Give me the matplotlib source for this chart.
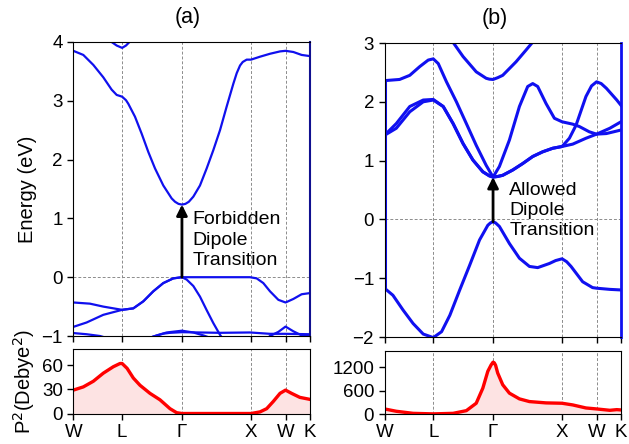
import numpy as np
import matplotlib
matplotlib.use('Agg')
import matplotlib.pyplot as plt

plt.rcParams['font.family'] = ['Liberation Sans', 'DejaVu Sans']
plt.rcParams['font.size'] = 13.5

# high symmetry points along W-L-G-X-W-K (units of 2pi/a)
kpts = [0.0, 0.707, 1.573, 2.573, 3.073, 3.427]
klabels = ['W', 'L', 'Γ', 'X', 'W', 'K']

# ---- (a) forbidden case ----
a_cb_k = [0.000, 0.145, 0.290, 0.434, 0.555, 0.628, 0.707, 0.763, 0.796, 0.893, 0.990, 1.086,
          1.183, 1.303, 1.424, 1.473, 1.523, 1.573, 1.623, 1.673, 1.738, 1.834, 1.931, 2.027,
          2.124, 2.220, 2.317, 2.366, 2.414, 2.453, 2.510, 2.573, 2.703, 2.848, 2.993, 3.073,
          3.186, 3.306, 3.427]
a_cb_e = [3.85, 3.78, 3.61, 3.40, 3.19, 3.10, 3.07, 3.01, 2.95, 2.73, 2.44, 2.13,
          1.85, 1.56, 1.34, 1.283, 1.247, 1.235, 1.247, 1.283, 1.37, 1.56, 1.85, 2.16,
          2.50, 2.90, 3.29, 3.47, 3.60, 3.66, 3.70, 3.70, 3.75, 3.80, 3.84, 3.85,
          3.83, 3.78, 3.76]

a_c2_k = [0.483, 0.555, 0.628, 0.707, 0.763, 0.830, 0.893]
a_c2_e = [4.08, 4.00, 3.94, 3.90, 3.94, 4.02, 4.10]

a_v1_k = [0.000, 0.241, 0.434, 0.707, 0.869, 1.014, 1.158, 1.303, 1.448, 1.573,
          1.883, 2.220, 2.558, 2.655, 2.751, 2.848, 2.969, 3.073, 3.186, 3.306, 3.427]
a_v1_e = [-0.43, -0.45, -0.50, -0.555, -0.53, -0.41, -0.24, -0.10, -0.02, 0.0,
          0.0, 0.0, 0.0, -0.02, -0.10, -0.24, -0.385, -0.43, -0.37, -0.29, -0.27]

a_v2_k = [0.000, 0.193, 0.434, 0.707, 0.869, 1.014, 1.158, 1.303, 1.448, 1.573,
          1.641, 1.738, 1.834, 1.931, 2.027, 2.124, 2.172]
a_v2_e = [-0.845, -0.77, -0.64, -0.555, -0.53, -0.41, -0.24, -0.10, -0.02, 0.0,
          -0.04, -0.15, -0.33, -0.56, -0.78, -0.98, -1.06]

a_v3_k = [0.000, 0.193, 0.386, 0.531]
a_v3_e = [-0.95, -0.97, -1.00, -1.05]
a_v4_k = [1.062, 1.207, 1.352, 1.573, 1.738, 1.883, 2.027]
a_v4_e = [-1.05, -0.99, -0.94, -0.91, -0.94, -0.99, -1.05]
a_v5_k = [1.158, 1.303, 1.400, 1.573, 2.124, 2.558, 2.848, 3.073, 3.427]
a_v5_e = [-1.01, -0.96, -0.946, -0.935, -0.946, -0.94, -0.963, -0.963, -0.97]
a_v6_k = [2.848, 2.969, 3.073, 3.186, 3.306, 3.427]
a_v6_e = [-1.00, -0.93, -0.84, -0.92, -0.99, -1.00]

a_p2_k = [0.000, 0.145, 0.290, 0.434, 0.579, 0.676, 0.707, 0.779, 0.869, 0.966, 1.110,
          1.255, 1.400, 1.496, 1.573, 2.573, 2.703, 2.800, 2.896, 2.993, 3.073,
          3.160, 3.280, 3.427]
a_p2 = [29, 33, 40, 50, 58, 62, 62, 56, 44, 35, 25,
        17, 6, 1, 0, 0, 2, 6, 15, 25, 29,
        25, 20, 17.5]

# ---- (b) allowed case ----
b_c1_k = [0.000, 0.171, 0.366, 0.561, 0.707, 0.851, 0.994, 1.138, 1.281, 1.425, 1.520, 1.573,
          1.640, 1.713, 1.858, 2.003, 2.148, 2.293, 2.438, 2.573, 2.727, 2.919, 3.073, 3.265,
          3.427]
b_c1_e = [1.43, 1.55, 1.83, 2.00, 2.03, 1.92, 1.63, 1.29, 1.01, 0.81, 0.74, 0.72,
          0.73, 0.75, 0.84, 0.95, 1.07, 1.15, 1.21, 1.24, 1.28, 1.38, 1.45, 1.55,
          1.66]

b_c2_k = [0.000, 0.171, 0.366, 0.561, 0.707, 0.851, 0.994, 1.138, 1.281, 1.425, 1.520, 1.573,
          1.640, 1.713, 1.858, 2.003, 2.148, 2.293, 2.438, 2.573, 2.679, 2.775, 2.919, 3.000,
          3.073, 3.140, 3.215, 3.366, 3.427]
b_c2_e = [1.43, 1.63, 1.92, 2.03, 2.04, 1.92, 1.63, 1.29, 1.01, 0.81, 0.74, 0.72,
          0.73, 0.75, 0.84, 0.95, 1.07, 1.15, 1.21, 1.24, 1.38, 1.60, 2.09, 2.27,
          2.34, 2.31, 2.23, 2.03, 1.94]

b_c3_k = [0.000, 0.219, 0.366, 0.512, 0.634, 0.707, 0.779, 0.898, 1.042, 1.186, 1.329, 1.473,
          1.573, 1.665, 1.810, 1.955, 2.075, 2.148, 2.220, 2.341, 2.462, 2.573, 2.727,
          2.823, 2.967, 3.073, 3.215, 3.427]
b_c3_e = [2.36, 2.38, 2.45, 2.60, 2.71, 2.73, 2.65, 2.34, 2.00, 1.63, 1.26, 0.92,
          0.72, 0.90, 1.35, 1.92, 2.26, 2.31, 2.26, 1.97, 1.72, 1.66, 1.62,
          1.58, 1.49, 1.45, 1.46, 1.52]

b_c4_k = [0.970, 1.138, 1.329, 1.473, 1.520, 1.573, 1.640, 1.713, 1.906, 2.051, 2.172]
b_c4_e = [3.05, 2.77, 2.51, 2.40, 2.385, 2.38, 2.41, 2.45, 2.68, 2.88, 3.05]

b_v_k = [0.000, 0.122, 0.268, 0.414, 0.561, 0.707, 0.827, 0.947, 1.090, 1.234, 1.377, 1.497,
         1.535, 1.573, 1.610, 1.665, 1.810, 1.955, 2.100, 2.220, 2.389, 2.480, 2.573, 2.640,
         2.703, 2.871, 3.015, 3.073, 3.265, 3.427]
b_v_e = [-1.17, -1.29, -1.54, -1.77, -1.95, -2.01, -1.91, -1.63, -1.20, -0.78, -0.35, -0.10,
         -0.06, -0.04, -0.06, -0.12, -0.41, -0.66, -0.80, -0.82, -0.75, -0.70, -0.67, -0.72,
         -0.80, -1.06, -1.16, -1.17, -1.19, -1.20]

b_p2_k = [0.000, 0.171, 0.414, 0.707, 0.994, 1.186, 1.329, 1.425, 1.497, 1.545, 1.573, 1.590,
          1.610, 1.640, 1.713, 1.810, 1.955, 2.100, 2.341, 2.573, 2.727, 2.919, 3.073, 3.265,
          3.366, 3.427]
b_p2 = [130, 70, 17, 3, 17, 86, 276, 664, 1096, 1260, 1330, 1315,
        1250, 1053, 751, 535, 388, 319, 285, 276, 233, 155, 130, 95,
        112, 104]

a_gap = (0.0, 1.235)
b_gap = (-0.04, 0.72)

fig = plt.figure(figsize=(6.29, 4.44), dpi=100)
W, H = 629, 444


def add_ax(x0, x1, y0, y1):
    return fig.add_axes([x0 / W, 1 - y1 / H, (x1 - x0) / W, (y1 - y0) / H])


ax_a = add_ax(73.3, 310, 42, 336)
ax_b = add_ax(384.5, 621, 43, 337)
ax_ap = add_ax(73.3, 310, 349, 413.5)
ax_bp = add_ax(384.5, 621, 350.5, 414)

grid_kw = dict(color='0.55', lw=0.7, ls=(0, (3, 2)), zorder=0)

for ax in (ax_a, ax_b, ax_ap, ax_bp):
    for k in kpts[1:-1]:
        ax.axvline(k, **grid_kw)
    ax.set_xlim(kpts[0], kpts[-1])
    ax.set_xticks(kpts)
    ax.tick_params(length=4, width=1, labelsize=13.5)

for ax in (ax_a, ax_b):
    ax.axhline(0, **grid_kw)
    ax.set_xticklabels([])

# band structure (a)
lw_a = 1.6
for kk, ee in [(a_cb_k, a_cb_e), (a_c2_k, a_c2_e), (a_v1_k, a_v1_e), (a_v2_k, a_v2_e),
               (a_v3_k, a_v3_e), (a_v4_k, a_v4_e), (a_v5_k, a_v5_e), (a_v6_k, a_v6_e)]:
    ax_a.plot(kk, ee, color='#1010ee', lw=lw_a, solid_joinstyle='round')
ax_a.set_ylim(-1, 4)
ax_a.set_yticks([-1, 0, 1, 2, 3, 4])
ax_a.spines['right'].set_color('#101090')
ax_a.spines['right'].set_linewidth(1.5)
ax_a.set_ylabel('Energy (eV)', fontsize=14.5)
ax_a.yaxis.set_label_coords(-0.153, 0.5)
ax_a.set_title('(a)', fontsize=15.5, pad=13.5, x=0.485)
ax_a.annotate('', xy=(kpts[2], a_gap[1]), xytext=(kpts[2], a_gap[0]),
              arrowprops=dict(arrowstyle='-|>', color='k', lw=2, mutation_scale=16,
                              shrinkA=0, shrinkB=0))
ax_a.text(1.73, 1.12, 'Forbidden\nDipole\nTransition', ha='left', va='top',
          fontsize=14, linespacing=1.25)

# band structure (b)
lw_b = 2.2
for kk, ee in [(b_c1_k, b_c1_e), (b_c2_k, b_c2_e), (b_c3_k, b_c3_e), (b_c4_k, b_c4_e),
               (b_v_k, b_v_e)]:
    ax_b.plot(kk, ee, color='#1010f0', lw=lw_b, solid_joinstyle='round')
ax_b.vlines(kpts[0], b_v_e[0], b_c3_e[0], color='#1010f0', lw=lw_b)
ax_b.set_ylim(-2, 3)
ax_b.set_yticks([-2, -1, 0, 1, 2, 3])
ax_b.spines['right'].set_color('#1010f0')
ax_b.spines['right'].set_linewidth(2)
ax_b.set_title('(b)', fontsize=15.5, pad=13.5, x=0.467)
ax_b.annotate('', xy=(kpts[2], b_gap[1]), xytext=(kpts[2], b_gap[0]),
              arrowprops=dict(arrowstyle='-|>', color='k', lw=2, mutation_scale=16,
                              shrinkA=0, shrinkB=0))
ax_b.text(1.81, 0.64, 'Allowed\nDipole\nTransition', ha='left', va='top',
          fontsize=14, linespacing=1.25)

# transition dipole moments
for ax, kk, pp, ymax, yt in [(ax_ap, a_p2_k, a_p2, 80, [0, 30, 60]),
                             (ax_bp, b_p2_k, b_p2, 1630, [0, 600, 1200])]:
    ax.fill_between(kk, 0, pp, color='#fde3e3', lw=0, zorder=1)
    ax.plot(kk, pp, color='#ff0000', lw=2.4, solid_joinstyle='round', zorder=2)
    ax.set_ylim(0, ymax)
    ax.set_yticks(yt)
    ax.set_xticklabels(klabels)

ax_ap.set_ylabel('P$^2$(Debye$^2$)', fontsize=14.5)
ax_ap.yaxis.set_label_coords(-0.153, 0.5)

fig.savefig('out.png', dpi=100)
